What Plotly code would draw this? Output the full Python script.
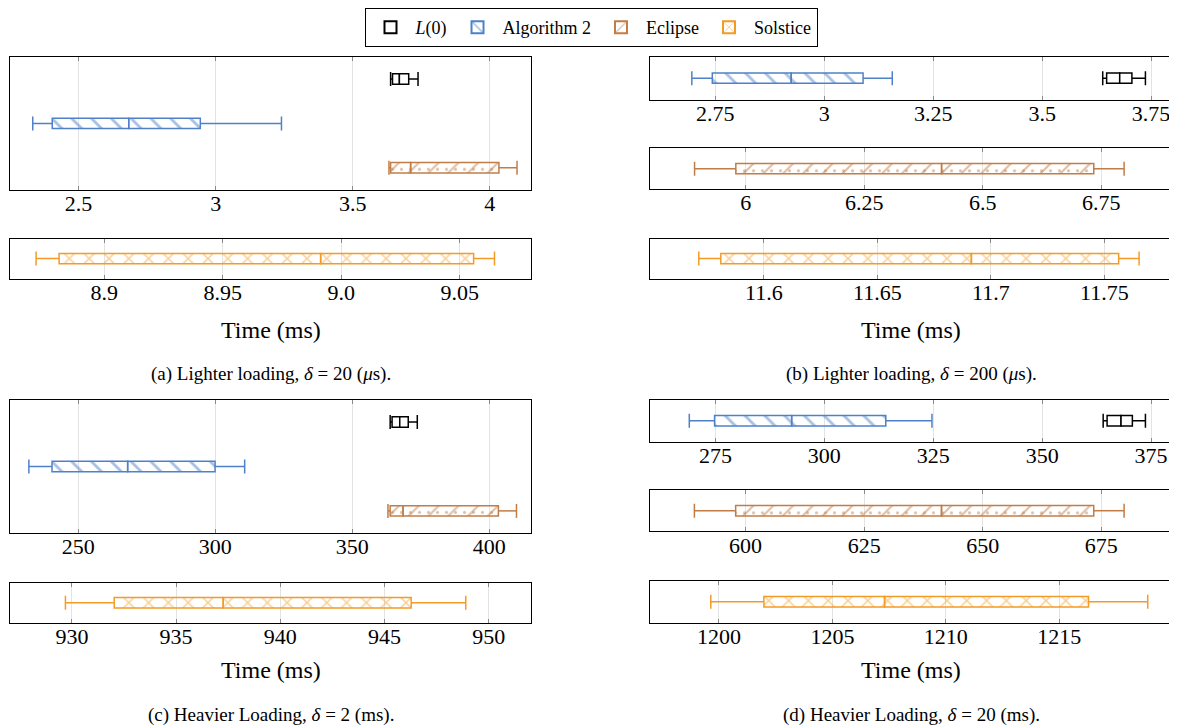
import plotly.graph_objects as go

# page body adds an 8px margin; pixel layout below is in screenshot pixels
OFF = 8
W, H = 1177 - OFF, 728 - OFF

# ---- data: box statistics [min, q1, median, q3, max] (ms) ----
a_L0 = [3.638, 3.645, 3.670, 3.704, 3.738]
a_alg2 = [2.333, 2.404, 2.683, 2.944, 3.240]
a_eclipse = [3.632, 3.638, 3.711, 4.033, 4.099]
a_solstice = [8.8713, 8.881, 8.9913, 9.0558, 9.0646]

b_L0 = [3.639, 3.648, 3.678, 3.706, 3.737]
b_alg2 = [2.696, 2.743, 2.924, 3.089, 3.156]
b_eclipse = [5.892, 5.979, 6.413, 6.734, 6.798]
b_solstice = [11.5713, 11.5810, 11.6914, 11.7563, 11.7653]

c_L0 = [363.8, 364.5, 367.3, 370.4, 373.7]
c_alg2 = [231.95, 240.4, 268.0, 299.9, 310.7]
c_eclipse = [363.0, 363.8, 368.5, 403.3, 409.9]
c_solstice = [929.69, 932.03, 937.26, 946.28, 948.9]

d_L0 = [364.0, 364.9, 368.1, 370.7, 373.7]
d_alg2 = [269.0, 274.8, 292.5, 314.1, 324.7]
d_eclipse = [589.2, 597.9, 641.3, 673.4, 679.8]
d_solstice = [1199.64, 1201.98, 1207.3, 1216.29, 1218.9]

# ---- tick labels ----
a_top_ticks = ["2.5", "3", "3.5", "4"]
a_bot_ticks = ["8.9", "8.95", "9.0", "9.05"]
b_top_ticks = ["2.75", "3", "3.25", "3.5", "3.75"]
b_mid_ticks = ["6", "6.25", "6.5", "6.75"]
b_bot_ticks = ["11.6", "11.65", "11.7", "11.75"]
c_top_ticks = ["250", "300", "350", "400"]
c_bot_ticks = ["930", "935", "940", "945", "950"]
d_top_ticks = ["275", "300", "325", "350", "375"]
d_mid_ticks = ["600", "625", "650", "675"]
d_bot_ticks = ["1200", "1205", "1210", "1215"]

series_names = ["<i>L</i>(0)", "Algorithm 2", "Eclipse", "Solstice"]
x_title = "Time (ms)"
captions = [
    "(a) Lighter loading, <i>δ</i> = 20 (<i>μ</i>s).",
    "(b) Lighter loading, <i>δ</i> = 200 (<i>μ</i>s).",
    "(c) Heavier Loading, <i>δ</i> = 2 (ms).",
    "(d) Heavier Loading, <i>δ</i> = 20 (ms).",
]

FONT = "Liberation Serif, Times New Roman, serif"
STYLES = {
    "<i>L</i>(0)": dict(color="#000000", shape="", bg="white", sol=0),
    "Algorithm 2": dict(color="#4f81c9", shape="\\", bg="rgba(255,255,255,0)", sol=0.2),
    "Eclipse": dict(color="#c17d47", shape="/", bg="rgba(255,255,255,0)", sol=0.15),
    "Solstice": dict(color="#f49b25", shape="x", bg="rgba(255,255,255,0)", sol=0.2),
}

# panel frames in screenshot pixels: (x0, x1, ytop, ybottom), x range, tick labels, y-range
panels = {
    "A1": ((10, 531, 53, 187), (2.25, 4.15), a_top_ticks, (2.5, -0.5)),
    "A2": ((10, 531, 236, 276), (8.8603, 9.080), a_bot_ticks, (-1, 1)),
    "B1": ((650, 1172, 53, 96), (2.600, 3.798), b_top_ticks, (-1, 1)),
    "B2": ((650, 1172, 145, 186), (5.798, 6.899), b_mid_ticks, (-1, 1)),
    "B3": ((650, 1172, 236, 276), (11.5498, 11.7798), b_bot_ticks, (-1, 1)),
    "C1": ((10, 531, 398, 532), (225.06, 415.2), c_top_ticks, (2.5, -0.5)),
    "C2": ((10, 531, 582, 622), (927.03, 952.03), c_bot_ticks, (-1, 1)),
    "D1": ((650, 1172, 398, 440), (259.98, 379.8), d_top_ticks, (-1, 1)),
    "D2": ((650, 1172, 489, 530), (579.84, 689.9), d_mid_ticks, (-1, 1)),
    "D3": ((650, 1172, 580, 622), (1196.96, 1219.97), d_bot_ticks, (-1, 1)),
}

placements = [
    ("A1", "<i>L</i>(0)", a_L0, 0), ("A1", "Algorithm 2", a_alg2, 1),
    ("A1", "Eclipse", a_eclipse, 2), ("A2", "Solstice", a_solstice, 0),
    ("B1", "<i>L</i>(0)", b_L0, 0), ("B1", "Algorithm 2", b_alg2, 0),
    ("B2", "Eclipse", b_eclipse, 0), ("B3", "Solstice", b_solstice, 0),
    ("C1", "<i>L</i>(0)", c_L0, 0), ("C1", "Algorithm 2", c_alg2, 1),
    ("C1", "Eclipse", c_eclipse, 2), ("C2", "Solstice", c_solstice, 0),
    ("D1", "<i>L</i>(0)", d_L0, 0), ("D1", "Algorithm 2", d_alg2, 0),
    ("D2", "Eclipse", d_eclipse, 0), ("D3", "Solstice", d_solstice, 0),
]


def px_x(p):
    return (p - OFF) / W


def px_y(p):
    return 1 - (p - OFF) / H


fig = go.Figure()
layout = {}
axis_ids = {}
BOX_PX = 10.5
for i, (name, (frame, xr, ticks, yr)) in enumerate(panels.items()):
    n = "" if i == 0 else str(i + 1)
    axis_ids[name] = ("x" + n, "y" + n)
    x0, x1, yt, yb = frame
    tickvals = [float(t) for t in ticks]
    layout["xaxis" + n] = dict(
        domain=[px_x(x0), px_x(x1)], anchor="y" + n, range=list(xr),
        tickvals=tickvals, ticktext=ticks, ticks="inside", ticklen=4,
        tickcolor="#8a8a8a", tickwidth=1, mirror="allticks", showline=True,
        linecolor="black", linewidth=1, showgrid=True, gridcolor="#e3e3e3",
        gridwidth=1, zeroline=False, fixedrange=True, ticklabelstandoff=-6,
        tickfont=dict(family=FONT, size=22, color="black"),
    )
    layout["yaxis" + n] = dict(
        domain=[px_y(yb), px_y(yt)], anchor="x" + n, range=list(yr),
        showline=True, mirror=True, linecolor="black", linewidth=1,
        showticklabels=False, ticks="", showgrid=False, zeroline=False,
        fixedrange=True,
    )

seen = set()
legend_traces = {}
for panel, sname, stats, row in placements:
    frame, xr, ticks, yr = panels[panel]
    xa, ya = axis_ids[panel]
    hpx = frame[3] - frame[2]
    bw = BOX_PX * abs(yr[1] - yr[0]) / hpx
    mn, q1, md, q3, mx = stats
    st = STYLES[sname]
    c = st["color"]
    show = sname not in seen
    seen.add(sname)
    pattern = dict(shape=st["shape"], fgcolor=c, bgcolor=st["bg"], size=14,
                   solidity=st["sol"]) if st["shape"] else dict(shape="")
    bar = go.Bar(
        y=[row, row], x=[md - q1, q3 - md], base=[q1, md], orientation="h",
        width=bw, name=sname, legendgroup=sname, showlegend=show,
        marker=dict(color=st["bg"] if not st["shape"] else c,
                    line=dict(color=c, width=1.5), pattern=pattern),
        xaxis=xa, yaxis=ya, hoverinfo="skip",
    )
    if show:
        legend_traces[sname] = bar
    else:
        fig.add_trace(bar)
    if sname == "Eclipse":
        fig.add_trace(go.Bar(
            y=[row, row], x=[md - q1, q3 - md], base=[q1, md], orientation="h",
            width=bw, showlegend=False, legendgroup=sname,
            marker=dict(color="rgba(0,0,0,0)", line=dict(width=0),
                        pattern=dict(shape=".", fgcolor=c, bgcolor="rgba(0,0,0,0)",
                                     size=9, solidity=0.1)),
            xaxis=xa, yaxis=ya, hoverinfo="skip"))
    fig.add_trace(go.Scatter(
        x=[mn, q1, None, q3, mx], y=[row, row, None, row, row], mode="lines",
        line=dict(color=c, width=1.5), showlegend=False, xaxis=xa, yaxis=ya,
        hoverinfo="skip"))
    fig.add_trace(go.Scatter(
        x=[mn, mx], y=[row, row], mode="markers",
        marker=dict(symbol="line-ns", size=10, line=dict(color=c, width=1.5)),
        showlegend=False, xaxis=xa, yaxis=ya, hoverinfo="skip"))

for sname in series_names:
    fig.add_trace(legend_traces[sname])

annotations = []
for cx, ty, cy, cap in [(270.5, 328, 372, captions[0]), (911, 328, 372, captions[1]),
                         (270.5, 670, 715, captions[2]), (911, 670, 715, captions[3])]:
    annotations.append(dict(x=px_x(cx), y=px_y(ty), xref="paper", yref="paper",
                            text=x_title, showarrow=False, xanchor="center",
                            yanchor="middle",
                            font=dict(family=FONT, size=24, color="black")))
    annotations.append(dict(x=px_x(cx), y=px_y(cy), xref="paper", yref="paper",
                            text=cap, showarrow=False, xanchor="center",
                            yanchor="middle",
                            font=dict(family=FONT, size=19, color="black")))

fig.update_layout(
    width=W, height=H, margin=dict(l=0, r=0, t=0, b=0),
    paper_bgcolor="white", plot_bgcolor="white", barmode="overlay",
    showlegend=True, font=dict(family=FONT, color="black"),
    legend=dict(orientation="h", x=px_x(591), xanchor="center", y=px_y(4),
                yanchor="top", bordercolor="black", borderwidth=1,
                font=dict(family=FONT, size=18, color="black"),
                traceorder="normal", itemsizing="constant", itemwidth=40),
    annotations=annotations,
    **layout,
)

fig.write_html("out.html")
